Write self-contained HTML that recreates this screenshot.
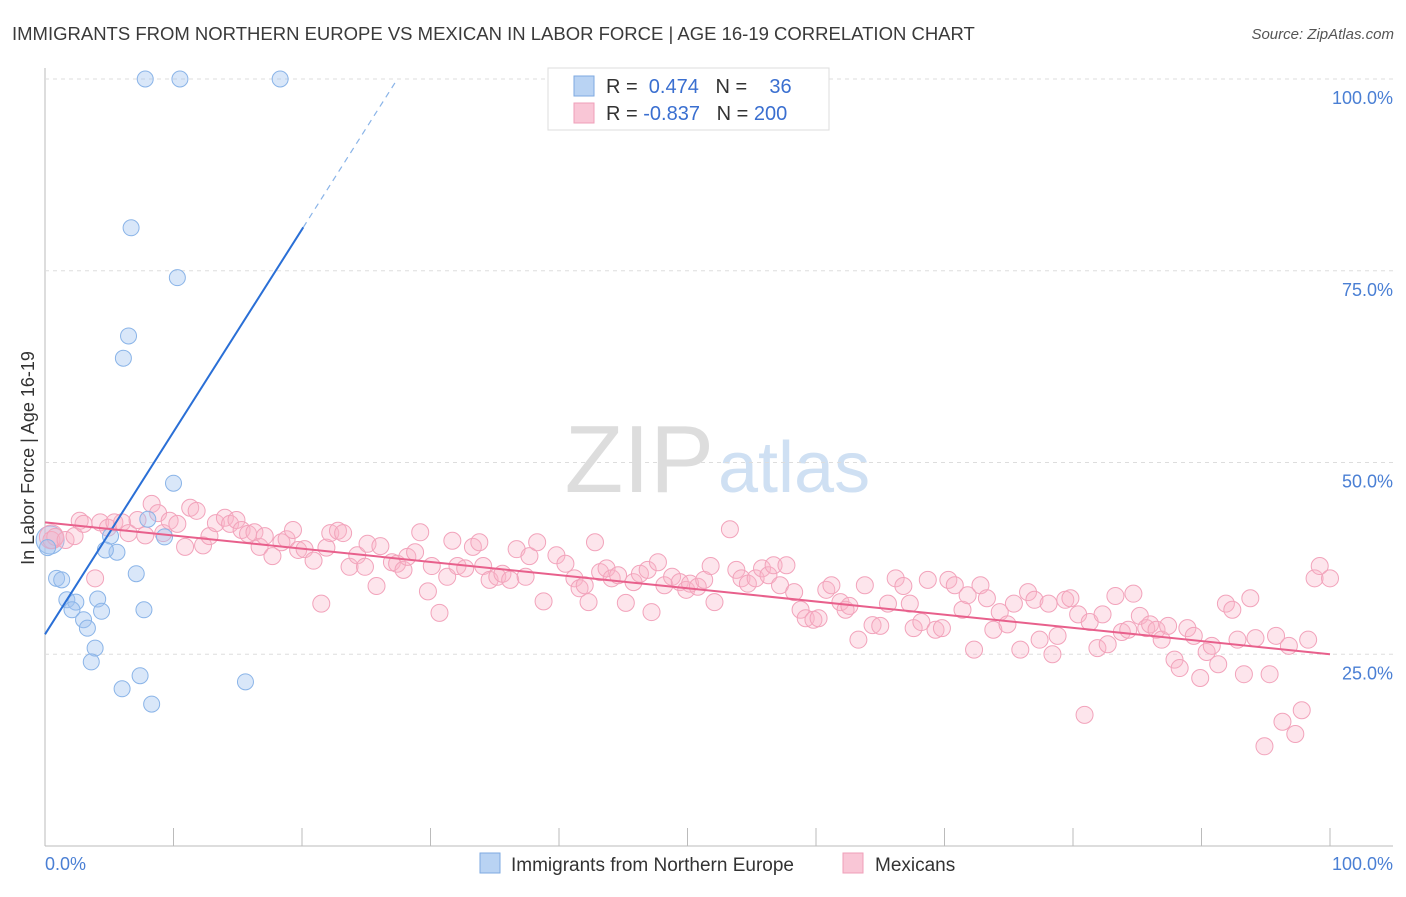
<!DOCTYPE html>
<html><head><meta charset="utf-8"><style>
body{margin:0;background:#fff;font-family:"Liberation Sans",sans-serif;}
svg text{font-family:"Liberation Sans",sans-serif;}
</style></head><body>
<svg id="chart" width="1406" height="892">
<text x="12" y="40" font-size="18.5" fill="#3a3a3a">IMMIGRANTS FROM NORTHERN EUROPE VS MEXICAN IN LABOR FORCE | AGE 16-19 CORRELATION CHART</text>
<text x="1394" y="39" font-size="15" fill="#555" font-style="italic" text-anchor="end">Source: ZipAtlas.com</text>
<text x="714" y="492" font-size="96" fill="#ddd" text-anchor="end" font-family="Liberation Serif">ZIP</text>
<text x="718" y="492" font-size="72" fill="#cfe0f3">atlas</text>
<g id="grid"></g><g id="marks"></g>
<text transform="translate(34,458) rotate(-90)" font-size="18" fill="#333" text-anchor="middle">In Labor Force | Age 16-19</text>
<text x="45" y="870" font-size="18" fill="#4a7fd4">0.0%</text>
<text x="1393" y="870" font-size="18" fill="#4a7fd4" text-anchor="end">100.0%</text>
<g>
<rect x="548" y="68" width="281" height="62" fill="#fff" stroke="#ddd"/>
<rect x="574" y="76" width="20" height="20" fill="#b9d3f3" stroke="#7ea9e0"/>
<rect x="574" y="103" width="20" height="20" fill="#f9c6d6" stroke="#ef9fb8"/>
<text x="606" y="93" font-size="20" fill="#333">R = <tspan fill="#3a6fd0">&#160;0.474</tspan>&#160;&#160;&#160;N = <tspan fill="#3a6fd0">&#160;&#160;&#160;36</tspan></text>
<text x="606" y="120" font-size="20" fill="#333">R = <tspan fill="#3a6fd0">-0.837</tspan>&#160;&#160;&#160;N = <tspan fill="#3a6fd0">200</tspan></text>
</g>
<g>
<rect x="480" y="853" width="20" height="20" fill="#b9d3f3" stroke="#7ea9e0"/>
<text x="511" y="871" font-size="19" fill="#333">Immigrants from Northern Europe</text>
<rect x="843" y="853" width="20" height="20" fill="#f9c6d6" stroke="#ef9fb8"/>
<text x="875" y="871" font-size="19" fill="#333">Mexicans</text>
</g>
</svg>
<script>
const yTicks=[25,50,75,100];
const yTickLabels=["25.0%","50.0%","75.0%","100.0%"];
const xTicks=[0,10,20,30,40,50,60,70,80,90,100];
const blueX=[7.8,10.5,18.3,6.7,10.3,6.5,6.1,10.0,8.0,5.1,9.3,5.6,4.7,0.9,1.3,7.1,1.7,2.4,4.1,2.1,4.4,7.7,3.0,3.3,3.9,3.6,7.4,6.0,15.6,8.3,0.2];
const blueY=[100,100,100,80.6,74.1,66.5,63.6,47.3,42.6,40.4,40.3,38.3,38.6,34.9,34.7,35.5,32.1,31.8,32.2,30.8,30.6,30.8,29.5,28.4,25.8,24.0,22.2,20.5,21.4,18.5,38.9];
const pinkX=[0.5,0.8,1.6,2.3,2.7,3.0,3.9,4.3,4.9,5.4,6.0,6.5,7.2,7.8,8.3,8.8,9.2,9.7,10.3,10.9,11.3,11.8,12.3,12.8,13.3,14.0,14.4,14.9,15.3,15.8,16.3,16.7,17.1,17.7,18.4,18.8,19.3,19.7,20.2,20.9,21.5,21.9,22.2,22.8,23.2,23.7,24.3,24.9,25.8,25.1,26.1,27.0,27.4,27.9,28.2,28.8,29.2,29.8,30.1,30.7,31.3,31.7,32.1,32.7,33.3,33.8,34.1,34.6,35.2,35.6,36.2,36.7,37.4,37.7,38.3,38.8,39.8,40.5,41.2,41.6,42.0,42.3,42.8,43.2,43.7,44.1,44.6,45.2,45.8,46.3,46.9,47.2,47.7,48.2,48.8,49.4,49.9,50.2,50.8,51.3,51.8,52.1,53.3,53.8,54.2,54.7,55.3,55.8,56.3,56.7,57.2,57.7,58.3,58.8,59.2,59.8,60.2,60.8,61.2,61.9,62.3,62.6,63.3,63.8,64.4,65.0,65.6,66.2,66.8,67.3,67.6,68.2,68.7,69.3,69.8,70.3,70.8,71.4,71.8,72.3,72.8,73.3,73.8,74.3,74.9,75.4,75.9,76.5,77.0,77.4,78.1,78.4,78.8,79.4,79.8,80.4,80.9,81.3,81.9,82.3,82.7,83.3,83.8,84.3,84.7,85.2,85.7,86.0,86.5,86.9,87.4,87.9,88.3,88.9,89.4,89.9,90.4,90.8,91.3,91.9,92.4,92.8,93.3,93.8,94.2,94.9,95.3,95.8,96.3,96.8,97.3,97.8,98.3,98.8,99.2,100];
const pinkY=[39.9,40.3,39.9,40.4,42.4,42.0,34.9,42.2,41.5,42.2,42.2,40.8,42.5,40.5,44.6,43.4,40.8,42.4,42.0,39.0,44.1,43.7,39.2,40.4,42.1,42.8,42.0,42.5,41.2,40.7,40.9,39.0,40.4,37.8,39.6,40.0,41.2,38.6,38.7,37.2,31.6,38.9,40.8,41.1,40.8,36.4,37.9,36.4,33.9,39.4,39.1,37.0,36.8,36.0,37.7,38.3,40.9,33.2,36.5,30.4,35.1,39.8,36.5,36.2,39.0,39.6,36.5,34.7,35.1,35.5,34.7,38.7,35.1,37.8,39.6,31.9,37.9,36.8,34.9,33.6,34.0,31.8,39.6,35.7,36.2,34.9,35.3,31.7,34.4,35.5,36.0,30.5,37.0,34.0,35.1,34.4,33.4,34.2,33.8,34.7,36.5,31.8,41.3,36.0,34.9,34.2,34.9,36.2,35.3,36.6,34.0,36.6,33.1,30.8,29.7,29.5,29.7,33.4,34.0,31.8,30.8,31.3,26.9,34.0,28.8,28.7,31.6,34.9,33.9,31.6,28.4,29.2,34.7,28.2,28.4,34.7,34.0,30.8,32.7,25.6,34.0,32.3,28.2,30.5,28.9,31.6,25.6,33.1,32.1,26.9,31.6,25.0,27.4,32.1,32.3,30.2,17.1,29.2,25.8,30.2,26.3,32.6,27.9,28.2,32.9,30.0,28.4,28.9,28.2,26.9,28.7,24.3,23.2,28.4,27.4,21.9,25.3,26.1,23.7,31.6,30.8,26.9,22.4,32.3,27.1,13.0,22.4,27.4,16.2,26.1,14.6,17.7,26.9,34.9,36.5,34.9];
const blueLine=[27.6,2.64];  // intercept, slope
const pinkLine=[42.2,25.0];  // y at x=0, y at x=100
const NS="http://www.w3.org/2000/svg";
const X0=45,X1=1330,Y0=846,Y1=79;
function sx(v){return X0+(X1-X0)*v/100;}
function sy(v){return Y0-(Y0-Y1)*v/100;}
const grid=document.getElementById('grid'),marks=document.getElementById('marks');
function mk(tag,attrs,parent){const e=document.createElementNS(NS,tag);for(const k in attrs)e.setAttribute(k,attrs[k]);parent.appendChild(e);return e;}
let ax=mk('line',{x1:X0,x2:X0,y1:68,y2:Y0,stroke:'#bbb'},grid);


let bx=mk('line',{x1:X0,x2:1393,y1:Y0,y2:Y0,stroke:'#bbb'},grid);


yTicks.forEach((t,i)=>{
 const g=mk('line',{x1:X0,x2:1393,y1:sy(t),y2:sy(t),stroke:'#ddd','stroke-dasharray':'4,4'},grid);
 
 
 const tx=mk('text',{x:1393,y:sy(t)+25,'font-size':18,fill:'#4a7fd4','text-anchor':'end'},grid);
 tx.textContent=yTickLabels[i];
 
 
});
xTicks.forEach(t=>{
 const l=mk('line',{x1:sx(t),x2:sx(t),y1:Y0,y2:Y0-18,stroke:'#bbb'},grid);
 
 
});
function dot(x,y,r,fill,stroke,name){
 const c=mk('circle',{cx:sx(x),cy:sy(y),r:r,fill:fill,stroke:stroke,'stroke-width':1},marks);
 
 
}
dot(0.4,39.9,14,'rgba(160,195,240,0.4)','#8ab4e8','blue-point-large');
dot(0.5,40.3,12,'rgba(248,180,200,0.35)','#f2a3bb','pink-point-large');
pinkX.forEach((x,i)=>dot(x,pinkY[i],8.5,'rgba(248,180,200,0.35)','#f2a3bb','mexican-point'));
blueX.forEach((x,i)=>dot(x,blueY[i],8,'rgba(160,195,240,0.4)','#8ab4e8','northern-europe-point'));
const bEnd=20.1, bTop=(100-blueLine[0])/blueLine[1];
let bl=mk('line',{x1:sx(0),y1:sy(blueLine[0]),x2:sx(bEnd),y2:sy(blueLine[0]+blueLine[1]*bEnd),stroke:'#2a6fd6','stroke-width':2},marks);


let bd=mk('line',{x1:sx(bEnd),y1:sy(blueLine[0]+blueLine[1]*bEnd),x2:sx(bTop),y2:sy(100),stroke:'#8ab4e8','stroke-width':1.2,'stroke-dasharray':'6,5'},marks);


let pl=mk('line',{x1:sx(0),y1:sy(pinkLine[0]),x2:sx(100),y2:sy(pinkLine[1]),stroke:'#e8608c','stroke-width':2},marks);


</script>
</body></html>
